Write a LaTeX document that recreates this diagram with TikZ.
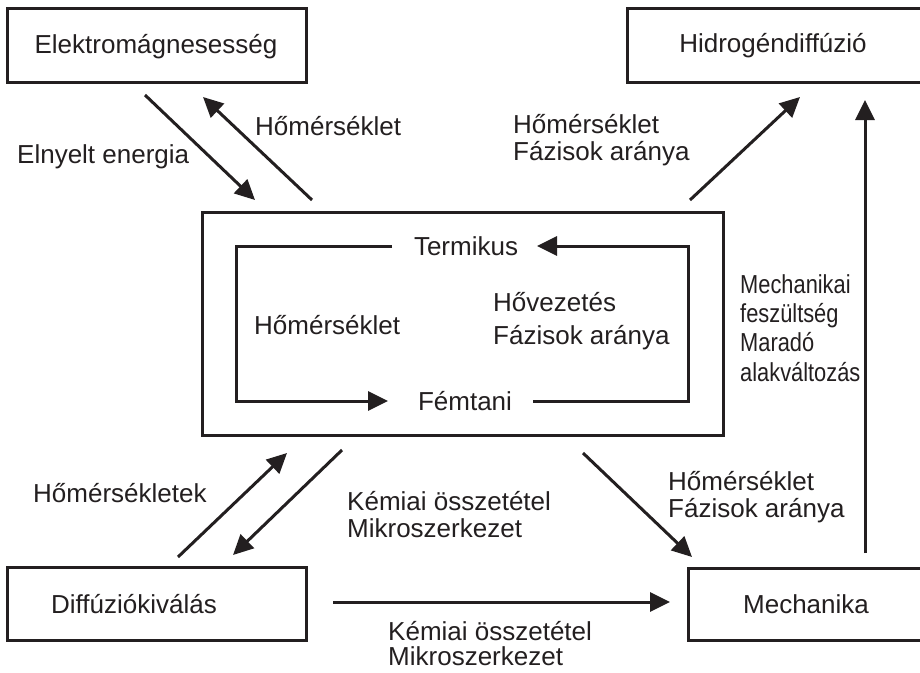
\documentclass[tikz,border=0pt]{standalone}
\usepackage{fontspec}
\setmainfont{Liberation Sans}
\usetikzlibrary{arrows.meta}
\definecolor{inkc}{HTML}{231F20}
\newcommand{\narrowtxt}[1]{\scalebox{0.84}[1]{#1}}
\begin{document}
\begin{tikzpicture}[x=1pt,y=-1pt,
  box/.style={draw=inkc, line width=3pt, rectangle, inner sep=0pt},
  txt/.style={text=inkc, font=\fontsize{26}{27}\selectfont, inner sep=0pt},
  lbl/.style={txt, anchor=base west},
  ctr/.style={txt, anchor=base},
  conn/.style={draw=inkc, line width=3pt},
  arr/.style={conn, -{Triangle[length=20pt,width=19pt]}},
]
\clip (0,0) rectangle (920,672);
\fill[white] (0,0) rectangle (920,672);

% boxes
\node[box, minimum width=299, minimum height=74] (em) at (156.5,45) {};
\node[ctr] (emt) at (156,53) {Elektromágnesesség};
\node[box, minimum width=313, minimum height=74] (hd) at (783.5,45) {};
\node[ctr] (hdt) at (773,52) {Hidrogéndiffúzió};
\node[box, minimum width=521, minimum height=223] (core) at (462.5,323.5) {};
\node[box, minimum width=299, minimum height=73] (dk) at (156.5,603.5) {};
\node[ctr] (dkt) at (134,613) {Diffúziókiválás};
\node[box, minimum width=252, minimum height=72] (mech) at (814,604) {};
\node[ctr] (mecht) at (806,613) {Mechanika};

% inner loop
\node[ctr] (term) at (466,255) {Termikus};
\node[ctr] (femt) at (465,410) {Fémtani};
\node[lbl] (hom) at (254,334) {Hőmérséklet};
\node[lbl] (hov1) at (493,311) {Hővezetés};
\node[lbl] (hov2) at (493,344) {Fázisok aránya};
\coordinate (tl) at (236,246);
\coordinate (tr) at (688,246);
\coordinate (bl) at (236,401);
\coordinate (br) at (688,401);
\coordinate (tlend) at (392,246);
\coordinate (trend) at (537,246);
\coordinate (blend) at (388,401);
\coordinate (brend) at (533,401);
\draw[arr] (brend) -- (br) -- (tr) -- (trend);
\draw[arr] (tlend) -- (tl) -- (bl) -- (blend);

% arrow end coordinates
\coordinate (a1s) at (145,95);  \coordinate (a1e) at (255,200);
\coordinate (a2s) at (312,200); \coordinate (a2e) at (203,97);
\coordinate (a3s) at (690,200); \coordinate (a3e) at (800,97);
\coordinate (a4s) at (865,553); \coordinate (a4e) at (865,100);
\coordinate (a5s) at (178,557); \coordinate (a5e) at (287,453);
\coordinate (a6s) at (342,450); \coordinate (a6e) at (233,555);
\coordinate (a7s) at (583,453); \coordinate (a7e) at (692,557);
\coordinate (a8s) at (333,602); \coordinate (a8e) at (670,602);
\draw[arr] (a1s) -- (a1e);
\draw[arr] (a2s) -- (a2e);
\draw[arr] (a3s) -- (a3e);
\draw[arr] (a4s) -- (a4e);
\draw[arr] (a5s) -- (a5e);
\draw[arr] (a6s) -- (a6e);
\draw[arr] (a7s) -- (a7e);
\draw[arr] (a8s) -- (a8e);

% labels
\node[lbl] (l1) at (255,135) {Hőmérséklet};
\node[lbl] (l2) at (17,163) {Elnyelt energia};
\node[lbl] (l3a) at (513,133) {Hőmérséklet};
\node[lbl] (l3b) at (513,160) {Fázisok aránya};
\node[lbl] (l4a) at (740,293) {\narrowtxt{Mechanikai}};
\node[lbl] (l4b) at (740,322) {\narrowtxt{feszültség}};
\node[lbl] (l4c) at (740,351) {\narrowtxt{Maradó}};
\node[lbl] (l4d) at (740,381) {\narrowtxt{alakváltozás}};
\node[lbl] (l5) at (33,502) {Hőmérsékletek};
\node[lbl] (l6a) at (347,510) {Kémiai összetétel};
\node[lbl] (l6b) at (347,537) {Mikroszerkezet};
\node[lbl] (l7a) at (668,490) {Hőmérséklet};
\node[lbl] (l7b) at (668,517) {Fázisok aránya};
\node[lbl] (l8a) at (388,640) {Kémiai összetétel};
\node[lbl] (l8b) at (388,665) {Mikroszerkezet};
\end{tikzpicture}
\end{document}
